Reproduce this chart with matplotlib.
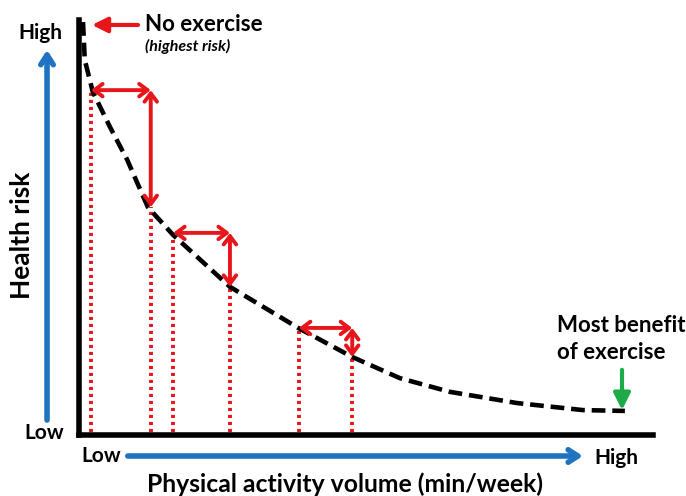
import numpy as np
import matplotlib
matplotlib.use('Agg')
import matplotlib.pyplot as plt

plt.rcParams['font.family'] = ['Lato', 'DejaVu Sans']

# dose-response curve (activity 0-100, risk 0-100)
activity = [0.7, 1.0, 2.4, 5.4, 8.4, 12.0, 16.4, 26.3, 38.2, 47.6, 55.9, 64.6, 76.3, 87.8, 95.1]
risk = [99.5, 90.4, 82.7, 74.2, 66.3, 54.9, 48.2, 35.7, 25.8, 18.8, 13.7, 10.4, 7.7, 6.0, 5.8]

# points where the dotted drop lines meet the curve
drop_x = [2.1, 12.5, 16.4, 26.3, 38.3, 47.6]
drop_y = [83.1, 54.9, 48.7, 35.7, 25.8, 18.8]

# step pairs (start index, end index) into drop_x / drop_y
steps = [(0, 1), (2, 3), (4, 5)]

red = '#e8161b'
blue = '#1f73c1'
green = '#1faa4a'

fig = plt.figure(figsize=(6.86, 4.96), dpi=100)
ax = fig.add_axes([79 / 686, 61 / 496, 574 / 686, 415 / 496])
ax.set_xlim(0, 100)
ax.set_ylim(0, 100)

ax.plot(activity, risk, color='black', lw=3.3, ls=(0, (3.0, 1.5)), zorder=3)

for x, y in zip(drop_x, drop_y):
    ax.plot([x, x], [0.8, y], color=red, lw=2.8, ls=(0, (0.8, 1.0)), zorder=2)

arrow_props = dict(arrowstyle='<->,head_length=0.6,head_width=0.45', lw=2.8,
                   color=red, shrinkA=0, shrinkB=0)
for a, b in steps:
    ax.annotate('', xy=(drop_x[b], drop_y[a]), xytext=(drop_x[a], drop_y[a]),
                arrowprops=arrow_props, zorder=4)
    ax.annotate('', xy=(drop_x[b], drop_y[b]), xytext=(drop_x[b], drop_y[a]),
                arrowprops=arrow_props, zorder=4)

for s in ['top', 'right']:
    ax.spines[s].set_visible(False)
for s in ['left', 'bottom']:
    ax.spines[s].set_linewidth(4)
ax.set_xticks([])
ax.set_yticks([])

# blue axis arrows
blue_props = dict(arrowstyle='->,head_length=0.7,head_width=0.45', lw=4, color=blue,
                  shrinkA=0, shrinkB=0)
ax.annotate('', xy=(-0.0557, 0.928), xytext=(-0.0557, 0.036), xycoords='axes fraction',
            arrowprops=blue_props, annotation_clip=False)
ax.annotate('', xy=(0.878, -0.0506), xytext=(0.085, -0.0506), xycoords='axes fraction',
            arrowprops=blue_props, annotation_clip=False)

tkw = dict(transform=ax.transAxes, fontweight='bold', color='black', clip_on=False)
ax.text(-0.068, 0.969, 'High', ha='center', va='center', fontsize=15, **tkw)
ax.text(-0.061, 0.005, 'Low', ha='center', va='center', fontsize=15, **tkw)
ax.text(-0.099, 0.482, 'Health risk', ha='center', va='center', rotation=90, fontsize=19, **tkw)
ax.text(0.038, -0.0506, 'Low', ha='center', va='center', fontsize=15, **tkw)
ax.text(0.936, -0.055, 'High', ha='center', va='center', fontsize=15, **tkw)
ax.text(0.463, -0.118, 'Physical activity volume (min/week)', ha='center', va='center',
        fontsize=17.8, **tkw)

# no exercise label
ax.annotate('', xy=(0.0226, 0.988), xytext=(0.1028, 0.988), xycoords='axes fraction',
            arrowprops=dict(arrowstyle='-|>,head_length=0.9,head_width=0.45', lw=3,
                            color=red, shrinkA=0, shrinkB=0), annotation_clip=False)
ax.text(0.115, 0.990, 'No exercise', ha='left', va='center', fontsize=16, **tkw)
ax.text(0.115, 0.935, '(highest risk)', ha='left', va='center', fontsize=11.5,
        style='italic', **tkw)

# most benefit label
ax.text(0.833, 0.263, 'Most benefit', ha='left', va='center', fontsize=16, **tkw)
ax.text(0.833, 0.198, 'of exercise', ha='left', va='center', fontsize=16, **tkw)
ax.annotate('', xy=(0.946, 0.060), xytext=(0.946, 0.157), xycoords='axes fraction',
            arrowprops=dict(arrowstyle='-|>,head_length=1.0,head_width=0.5', lw=3,
                            color=green, shrinkA=0, shrinkB=0), annotation_clip=False)

fig.savefig('out.png', dpi=100)
